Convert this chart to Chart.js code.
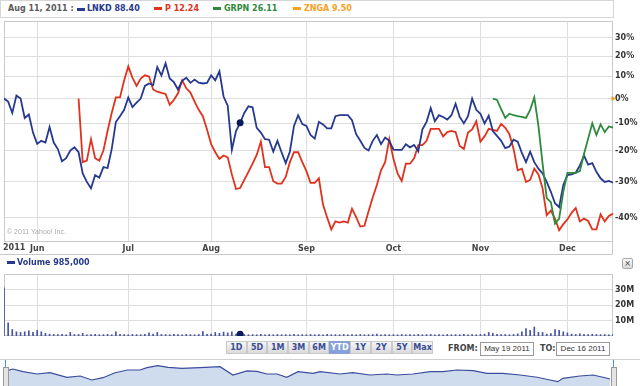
<!DOCTYPE html>
<html>
<head>
<meta charset="utf-8">
<script src="https://cdn.jsdelivr.net/npm/chart.js@4"></script>
<style>
body{margin:0;width:640px;height:386px;position:relative;overflow:hidden;background:#fff;font-family:"DejaVu Sans",Verdana,sans-serif;}
.abs{position:absolute;white-space:nowrap}
.b8{font-size:8px;font-weight:bold;line-height:10px}
.sw{position:absolute;width:8px;height:3px}
.btn{box-sizing:border-box;width:20.7px;height:13px;border:1px solid #c9c9c9;background:linear-gradient(#f6f6f6,#dadada);color:#3a4c96;font-size:8px;font-weight:bold;line-height:11px;text-align:center;float:left}
.btn.on{background:#86a2dc;color:#fff;border-color:#8aa0cc}
.box{box-sizing:border-box;height:14px;border:1px solid #9a9a9a;font-family:"Liberation Sans",Arial,sans-serif;font-size:8px;line-height:12px;text-align:center;color:#333}
</style>
</head>
<body>
<div class="abs" style="left:0;top:0;width:612px;height:16px;border:1px solid #d6d6d6"></div>
<div class="abs b8" style="left:8px;top:4px;color:#5a5a5a">Aug 11, 2011 :</div>
<div class="sw" style="left:77px;top:8px;background:#26398f"></div>
<div class="abs b8" style="left:87px;top:4px;color:#26398f">LNKD 88.40</div>
<div class="sw" style="left:154px;top:7px;background:#e0321c"></div>
<div class="abs b8" style="left:165px;top:4px;color:#e0321c">P 12.24</div>
<div class="sw" style="left:213px;top:7px;background:#2e8a3c"></div>
<div class="abs b8" style="left:224px;top:4px;color:#2e8a3c">GRPN 26.11</div>
<div class="sw" style="left:293px;top:7px;background:#f4a024"></div>
<div class="abs b8" style="left:304px;top:4px;color:#f4a024">ZNGA 9.50</div>

<div class="abs" style="left:0;top:17px;width:640px;height:238px"><canvas id="main"></canvas></div>
<div class="abs" style="left:7px;top:228px;font-family:'Liberation Sans',Arial,sans-serif;font-size:7px;color:#a8a8a8">© 2011 Yahoo! Inc.</div>
<div class="abs b8" style="left:3px;top:243px;color:#444">2011</div>

<div class="sw" style="left:7px;top:261px;background:#26398f"></div>
<div class="abs b8" style="left:17px;top:258px;color:#26398f">Volume 985,000</div>
<div class="abs" style="left:622px;top:258px;width:9px;height:9px;border:1px solid #a8a8a8;border-radius:2px;background:linear-gradient(#fafafa,#d8d8d8);font-size:8px;line-height:9px;text-align:center;color:#444">×</div>

<div class="abs" style="left:0;top:270px;width:640px;height:70px"><canvas id="vol"></canvas></div>

<div class="abs" id="btns" style="left:226px;top:341px"></div>
<div class="abs b8" style="left:448px;top:344px;color:#444">FROM:</div>
<div class="abs box" style="left:480px;top:342px;width:54px">May 19 2011</div>
<div class="abs b8" style="left:540px;top:344px;color:#444">TO:</div>
<div class="abs box" style="left:556px;top:342px;width:54px">Dec 16 2011</div>

<div class="abs" style="left:0;top:359px;width:640px;height:27px;border-top:1px solid #d0d0d0;box-sizing:border-box"><canvas id="nav"></canvas></div>
<div class="abs" style="left:5px;top:360px;width:1px;height:7px;background:#3d9be9"></div>
<div class="abs" style="left:3px;top:367px;width:4px;height:19px;border:1px solid #999;background:#e4e4e4"></div>
<div class="abs" style="left:613px;top:360px;width:1px;height:7px;background:#3d9be9"></div>
<div class="abs" style="left:611px;top:367px;width:4px;height:19px;border:1px solid #999;background:#e4e4e4"></div>

<script>
// trading days since LNKD IPO (May 19 2011) up to Dec 16 2011: index 0..147
const monthLabels = ["Jun", "Jul", "Aug", "Sep", "Oct", "Nov", "Dec"];
const monthStarts = [8, 30, 50, 73, 94, 115, 136];
const pctTicks = [30, 20, 10, 0, -10, -20, -30, -40];
const volTicks = [10, 20, 30];
const ranges = ["1D", "5D", "1M", "3M", "6M", "YTD", "1Y", "2Y", "5Y", "Max"];

// % change since first close, one value per trading day
const lnkd = [
  0, -1.3, -6, 1.3, 0, -8, -6.6, -13.6, -17.7, -16.6,
  -17.2, -11.5, -17.2, -19.5, -23.6, -22.6, -20, -18.9, -20.6, -27.5,
  -30.1, -32, -28, -28.8, -25.5, -25.8, -19.5, -9.6, -7.3, -4.7,
  0.5, -3.6, -1.7, 0, 5.6, 6.7, 6, 14.5, 10.5, 16.4,
  9, 7.3, 4, 7.9, 9.4, 7, 8.5, 7.1, 6.7, 7,
  10.5, 8.2, 12.4, 0.9, -3, -19.8, -13, -9.9, -6, -3.3,
  -3.7, -11.8, -13.6, -16, -16.2, -20.4, -16.6, -20.6, -24.2, -20.4,
  -11.1, -6.9, -10.4, -11.1, -14.5, -15.8, -9.5, -10.5, -12, -12,
  -7.3, -6.9, -6.9, -6.9, -8.9, -14.2, -16.6, -19.1, -20, -16.6,
  -14.5, -17.8, -15.4, -16.6, -19.7, -19.8, -19.8, -17.8, -18.9, -18.1,
  -20.3, -12.4, -9.5, -4, -9.3, -6.9, -7.6, -8.6, -6.9, -2.2,
  -7.6, -10.1, -7.3, 0, -4.7, -6.3, -10.1, -7.1, -13, -14.8,
  -16.6, -19.2, -18.6, -16.2, -16.9, -20.8, -23.9, -20.4, -23.9, -26,
  -27.5, -30.1, -33, -36.2, -37.3, -31, -28, -27.8, -27.3, -25,
  -21.7, -24.7, -24.2, -27, -29, -30.1, -29.8, -30.3
];
const pStart = 18;
const pandora = [
  0, -23.9, -23.4, -16, -22.6, -23.4, -20, -13, -6, 0.5,
  0.5, 8.2, 14.8, 9.4, 5.6, 9, 10.5, 10, 4, 3,
  2.5, 2, -2.6, -0.6, 2.3, 8.2, 4.5, 2.6, -1.3, -4.7,
  -7.3, -12.4, -17.8, -20.6, -22.8, -21.7, -22.3, -27.8, -32.2, -31.9,
  -29.5, -27, -24.4, -21.5, -16.9, -25.5, -25.5, -29.9, -30.6, -30.6,
  -28.6, -23.9, -20.6, -20.6, -23.9, -26.8, -30.4, -30.4, -29, -36.6,
  -40, -43, -41, -41.3, -41, -41.3, -37.7, -39.9, -42.3, -42.1,
  -38.4, -34.6, -31, -26.5, -23.9, -16, -22.8, -27.5, -29.8, -24.4,
  -24.4, -22.6, -18.1, -18.1, -16.6, -12.2, -12.2, -12.2, -15, -13.4,
  -13, -13.4, -18.4, -19.5, -13.6, -12.4, -9.3, -16.9, -15, -12.2,
  -12.6, -13, -10.3, -11.8, -14.2, -19.5, -26.5, -26, -30.1, -29.5,
  -26, -27.8, -32, -39.4, -38.2, -40.3, -43.2, -41.7, -40.5, -38.8,
  -37.5, -41, -40.3, -40.9, -43, -43, -39.2, -41, -39.6, -39
];
const grpnStart = 118;
const grpn = [
  0, -0.6, -4.4, -8, -6.3, -6.9, -7.3, -7.6, -8, -4.7,
  0.5, -11.1, -24.4, -34.8, -35.9, -41.6, -40.3, -33, -27.3, -27.3,
  -27.3, -26.8, -21.2, -15.8, -10.1, -14.5, -10.5, -13.4, -11.3, -11.7
];
const zngaStart = 147;
const znga = [0];
const markerDay = 57;

// LNKD volume, millions of shares
const volume = [
  31, 8.5, 4.2, 2.7, 2.3, 2.7, 3.3, 2.3,
  3.7, 2.7, 1.7, 1.2, 1.0, 0.9, 1.1, 0.8, 2.3, 0.9, 1.0, 1.7, 0.8, 0.9, 1.0, 0.8, 0.9, 1.0, 0.8, 2.7, 1.0, 0.9,
  0.8, 1.0, 0.9, 0.8, 1.0, 2.0, 1.2, 2.3, 1.0, 0.9, 0.8, 1.0, 0.9, 0.8, 1.0, 0.9, 0.8, 1.0, 2.8, 1.0,
  1.2, 2.3, 1.7, 2.5, 2.0, 2.7, 1.2, 1.2, 1.0, 0.8, 0.9, 0.8, 1.0, 0.8, 0.9, 0.8, 1.0, 0.8, 0.9, 0.8, 1.0, 0.8, 0.9,
  0.8, 1.0, 0.8, 0.9, 0.8, 1.0, 0.8, 0.9, 0.8, 1.0, 0.8, 0.9, 0.8, 1.0, 0.8, 0.9, 1.0, 1.2, 0.8, 0.9, 0.8,
  0.9, 0.8, 1.0, 0.8, 0.9, 0.8, 1.0, 0.8, 0.9, 1.0, 0.8, 0.9, 0.8, 1.0, 0.8, 0.9, 0.8, 1.0, 0.8, 0.9, 0.8,
  1.0, 1.2, 2.3, 1.7, 1.0, 0.9, 1.0, 0.8, 1.0, 1.4, 2.7, 4.8, 3.7, 5.8, 2.3, 2.3, 1.2, 1.5, 4.2, 3.7, 2.7,
  2.0, 1.2, 1.0, 1.4, 1.0, 0.9, 1.2, 1.0, 0.9, 1.0, 0.8, 1.0
];

// navigator sparkline (LNKD price, $)
const navDays = [1, 2.4, 4.8, 8.2, 11.3, 15.4, 18.6, 21.4, 24.1, 27, 30, 33, 34.7, 37.3, 39.8, 43.1, 47.5, 52.3, 55.4, 58.8,
  61.2, 63.6, 66, 68.4, 71.1, 74.7, 76.4, 81.2, 84.3, 88.4, 92.5, 94.9, 98.8, 102.9, 106, 109.4, 113.3, 116.6, 120.5, 124.6,
  128.7, 131.8, 133.7, 134.9, 139, 142.2, 144.6, 146.3];
const navPrice = [81.5, 84.4, 79.8, 75.8, 78, 70.1, 72.3, 65.4, 69.4, 78, 82.7, 82.7, 86.7, 90.1, 87.4, 85.6, 86.7, 88.4, 74, 81,
  80.4, 75.8, 75.8, 70.1, 79.8, 77, 79.8, 75.8, 78, 74, 75.8, 74, 75.8, 79.8, 79.8, 82.7, 81.5, 77, 77, 74,
  70.1, 65.4, 62.5, 68.3, 72.3, 74, 70.1, 67.1];

const LINE_FONT = { family: "DejaVu Sans", size: 8, weight: "bold" };
const GRID = "#dddddd";

function series(start, vals) {
  return vals.map((v, i) => ({ x: start + i, y: 1 + v / 100 }));
}

const framePlugin = {
  id: "frame",
  beforeDatasetsDraw(chart, args, opts) {
    const { ctx, chartArea: a } = chart;
    const l = Math.round(a.left) + 0.5, t = Math.round(a.top) + 0.5;
    const r = Math.round(a.right) - 0.5, b = Math.round(a.bottom) - 0.5;
    ctx.save();
    ctx.strokeStyle = "#c9c9c9";
    ctx.lineWidth = 1;
    ctx.strokeRect(l, t, r - l, b - t);
    if (opts.underline) {
      const y = chart.height - 0.5;
      ctx.beginPath();
      ctx.moveTo(0, y); ctx.lineTo(r, y);
      ctx.moveTo(r, b); ctx.lineTo(r, y);
      ctx.stroke();
    }
    ctx.restore();
  }
};

// keep the axes from reserving room for half-labels at their ends
function noPad(s) {
  s.paddingTop = 0; s.paddingBottom = 0; s.paddingLeft = 0; s.paddingRight = 0;
}

const xAxis = (showLabels, h) => ({
  type: "linear", min: 0, max: 147, offset: false,
  afterBuildTicks: s => { s.ticks = monthStarts.map(v => ({ value: v })); },
  afterFit: s => { s.height = h; noPad(s); },
  grid: { color: GRID, drawTicks: false, offset: false },
  border: { display: false },
  ticks: {
    display: showLabels, autoSkip: false, maxRotation: 0, padding: 2,
    font: LINE_FONT, color: "#444",
    callback: (v, i) => monthLabels[i]
  }
});

new Chart("main", {
  type: "line",
  data: {
    datasets: [
      { data: [{ x: markerDay, y: 1 + lnkd[markerDay] / 100 }], showLine: false, pointRadius: 3.5, pointBackgroundColor: "#0b1a5c", pointBorderWidth: 0 },
      { data: series(zngaStart, znga), showLine: false, pointStyle: "triangle", rotation: 90, pointRadius: 3, pointBackgroundColor: "#f4a024", pointBorderWidth: 0, clip: false },
      { data: series(grpnStart, grpn), borderColor: "#2e8a3c" },
      { data: series(0, lnkd), borderColor: "#26398f" },
      { data: series(pStart, pandora), borderColor: "#e0321c" }
    ]
  },
  options: {
    responsive: true, maintainAspectRatio: false, animation: false,
    layout: { padding: { left: 3, top: 1 } },
    elements: { line: { borderWidth: 1.8, tension: 0 }, point: { radius: 0 } },
    plugins: { legend: { display: false }, tooltip: { enabled: false }, frame: { underline: true } },
    scales: {
      x: xAxis(true, 13),
      y: {
        type: "logarithmic", position: "right", min: 0.5447, max: 1.3956,
        afterBuildTicks: s => { s.ticks = pctTicks.map(p => ({ value: 1 + p / 100 })); },
        afterFit: s => { s.width = 27; noPad(s); },
        grid: { color: GRID, drawTicks: false },
        border: { display: false },
        ticks: { padding: 2, font: LINE_FONT, color: "#333", callback: v => Math.round((v - 1) * 100) + "%" }
      }
    }
  },
  plugins: [framePlugin]
});

new Chart("vol", {
  type: "bar",
  data: {
    datasets: [
      { type: "line", data: [{ x: markerDay, y: volume[markerDay] }], showLine: false, pointRadius: 3.5, pointBackgroundColor: "#0b1a5c", pointBorderWidth: 0 },
      { data: volume.map((v, i) => ({ x: i, y: v })), backgroundColor: "#4553a2", barThickness: 1 }
    ]
  },
  options: {
    responsive: true, maintainAspectRatio: false, animation: false,
    layout: { padding: { left: 3, top: 2 } },
    plugins: { legend: { display: false }, tooltip: { enabled: false }, frame: {} },
    scales: {
      x: xAxis(false, 4),
      y: {
        position: "right", min: 0, max: 40,
        afterBuildTicks: s => { s.ticks = volTicks.map(v => ({ value: v })); },
        afterFit: s => { s.width = 27; noPad(s); },
        grid: { color: GRID, drawTicks: false },
        border: { display: false },
        ticks: { padding: 2, font: LINE_FONT, color: "#333", callback: v => v + "M" }
      }
    }
  },
  plugins: [framePlugin]
});

new Chart("nav", {
  type: "line",
  data: {
    datasets: [{
      data: navDays.map((d, i) => ({ x: d, y: navPrice[i] })),
      borderColor: "#3a4c9c", borderWidth: 1.2, pointRadius: 0,
      fill: "start", backgroundColor: "#cfdcee"
    }]
  },
  options: {
    responsive: true, maintainAspectRatio: false, animation: false,
    layout: { padding: { left: 3, right: 27 } },
    plugins: { legend: { display: false }, tooltip: { enabled: false } },
    scales: {
      x: { type: "linear", min: 0, max: 147, display: false },
      y: { min: 55, max: 100, display: false }
    }
  }
});

const btns = document.getElementById("btns");
ranges.forEach(r => {
  const d = document.createElement("div");
  d.className = "btn" + (r === "YTD" ? " on" : "");
  d.textContent = r;
  btns.appendChild(d);
});
</script>
</body>
</html>
